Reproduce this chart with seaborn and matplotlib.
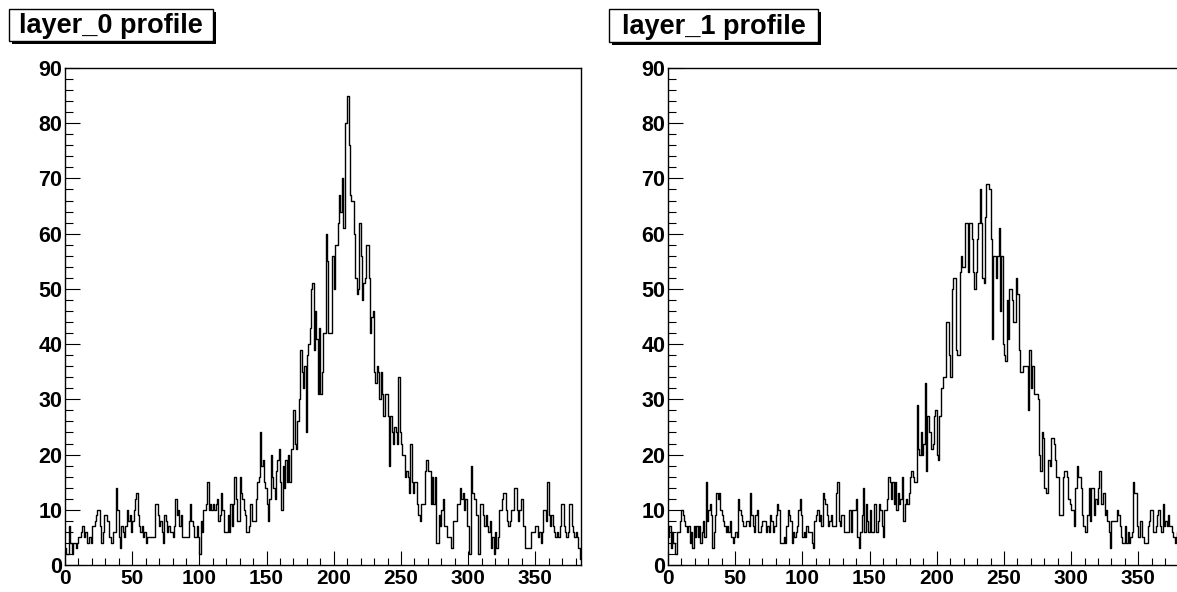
import numpy as np
import pandas as pd
import matplotlib
matplotlib.use("Agg")
import matplotlib.pyplot as plt
from matplotlib.patches import Rectangle
from matplotlib.ticker import MultipleLocator
import seaborn as sns

# Per-channel counts, 384 channels per layer
layer0_counts = [
    3, 2, 2, 7, 4, 2, 4, 4, 3, 4,
    5, 5, 6, 7, 5, 6, 4, 4, 5, 4,
    7, 7, 8, 9, 10, 10, 7, 4, 6, 9,
    9, 8, 8, 5, 4, 4, 6, 6, 14, 10,
    5, 3, 7, 6, 5, 7, 10, 8, 9, 6,
    8, 10, 12, 13, 9, 7, 6, 7, 5, 6,
    4, 5, 5, 5, 5, 5, 5, 11, 11, 9,
    7, 8, 6, 4, 9, 8, 6, 7, 6, 6,
    5, 7, 12, 9, 10, 7, 9, 5, 5, 5,
    5, 5, 8, 11, 8, 7, 5, 5, 7, 5,
    2, 8, 6, 10, 10, 11, 15, 10, 11, 10,
    11, 10, 11, 12, 8, 9, 13, 10, 6, 6,
    6, 9, 6, 11, 7, 11, 16, 12, 8, 8,
    16, 13, 12, 10, 9, 6, 6, 7, 11, 8,
    8, 8, 12, 15, 16, 24, 18, 19, 15, 14,
    11, 8, 12, 20, 16, 14, 12, 17, 19, 21,
    15, 10, 18, 14, 19, 15, 20, 15, 21, 21,
    28, 22, 21, 26, 30, 39, 35, 32, 36, 24,
    38, 40, 43, 50, 51, 39, 46, 41, 31, 43,
    31, 35, 42, 42, 60, 55, 42, 42, 42, 56,
    50, 58, 58, 62, 67, 64, 70, 61, 80, 80,
    85, 76, 67, 66, 66, 60, 52, 49, 50, 62,
    56, 48, 51, 52, 58, 58, 52, 42, 45, 46,
    35, 33, 36, 35, 30, 35, 31, 27, 31, 31,
    27, 18, 27, 24, 22, 25, 24, 22, 34, 24,
    22, 20, 20, 16, 17, 16, 13, 22, 15, 13,
    15, 15, 11, 9, 8, 11, 11, 11, 17, 19,
    17, 17, 11, 16, 11, 16, 4, 4, 9, 7,
    10, 12, 7, 7, 5, 5, 5, 3, 3, 8,
    8, 8, 11, 11, 14, 12, 13, 10, 12, 7,
    7, 2, 18, 13, 12, 12, 9, 2, 2, 11,
    11, 9, 7, 9, 7, 6, 8, 3, 5, 2,
    6, 3, 5, 10, 10, 12, 13, 13, 10, 8,
    7, 8, 10, 10, 14, 14, 10, 8, 10, 12,
    12, 7, 3, 3, 3, 3, 3, 6, 6, 6,
    7, 7, 5, 6, 4, 6, 10, 10, 8, 15,
    9, 7, 9, 7, 6, 5, 6, 5, 7, 11,
    11, 7, 6, 5, 6, 11, 11, 7, 6, 5,
    6, 5, 3, 1,
]

layer1_counts = [
    5, 7, 3, 6, 4, 2, 2, 6, 6, 8,
    10, 9, 8, 7, 6, 7, 4, 6, 3, 7,
    5, 7, 5, 7, 4, 6, 8, 5, 15, 8,
    10, 11, 9, 3, 6, 9, 13, 12, 13, 10,
    9, 8, 7, 6, 7, 6, 8, 5, 4, 5,
    6, 5, 12, 10, 9, 8, 7, 7, 8, 8,
    7, 13, 9, 7, 6, 9, 10, 6, 6, 7,
    8, 8, 8, 6, 7, 6, 9, 8, 6, 7,
    9, 11, 10, 4, 4, 4, 5, 4, 7, 10,
    9, 8, 4, 6, 5, 6, 7, 10, 12, 9,
    5, 6, 5, 7, 6, 6, 6, 4, 3, 8,
    9, 10, 8, 9, 7, 13, 12, 11, 9, 7,
    8, 9, 7, 7, 7, 13, 15, 8, 7, 9,
    9, 6, 6, 6, 6, 10, 6, 10, 10, 10,
    12, 5, 3, 6, 9, 14, 6, 11, 8, 6,
    10, 6, 6, 11, 11, 6, 8, 11, 10, 7,
    5, 10, 10, 12, 16, 15, 12, 15, 11, 15,
    10, 13, 11, 12, 16, 8, 11, 12, 11, 13,
    16, 17, 16, 15, 15, 29, 21, 20, 24, 20,
    22, 33, 17, 27, 24, 24, 21, 22, 27, 28,
    20, 19, 27, 32, 32, 34, 34, 44, 44, 38,
    34, 50, 52, 52, 39, 38, 38, 53, 56, 54,
    54, 62, 62, 53, 62, 62, 59, 53, 50, 53,
    59, 62, 68, 62, 52, 51, 63, 69, 69, 68,
    59, 41, 56, 56, 52, 56, 61, 46, 56, 40,
    38, 37, 48, 41, 50, 50, 48, 44, 44, 52,
    49, 39, 35, 35, 36, 36, 36, 36, 28, 39,
    32, 36, 31, 31, 31, 30, 20, 17, 24, 23,
    14, 13, 13, 19, 18, 23, 23, 22, 19, 16,
    16, 9, 9, 9, 16, 17, 17, 16, 12, 11,
    10, 10, 7, 14, 18, 16, 16, 14, 9, 7,
    6, 6, 9, 14, 8, 14, 14, 9, 12, 11,
    14, 17, 11, 11, 13, 9, 10, 8, 6, 3,
    8, 8, 8, 8, 10, 9, 7, 5, 4, 4,
    7, 4, 6, 4, 5, 6, 15, 13, 13, 7,
    5, 8, 8, 5, 4, 4, 4, 7, 8, 10,
    10, 6, 6, 7, 9, 10, 7, 6, 11, 7,
    8, 7, 9, 7, 7, 6, 5, 4, 5, 6,
    4, 7, 5, 6,
]

titles = ["layer_0 profile", "layer_1 profile"]
n_channels = 384
y_max = 90

sns.set_theme(style="white")
plt.rcParams["font.family"] = ["Liberation Sans", "DejaVu Sans"]
plt.rcParams["font.weight"] = "bold"
plt.rcParams["text.color"] = "black"
plt.rcParams["xtick.color"] = "black"
plt.rcParams["ytick.color"] = "black"

W, H = 1177, 592
fig = plt.figure(figsize=(W / 100, H / 100), dpi=100)
fig.patch.set_facecolor("white")


def axes_px(x0, top, w, h):
    return fig.add_axes([x0 / W, 1 - (top + h) / H, w / W, h / H])


def title_box(x0, top, w, h, text):
    sh = 3
    fig.add_artist(Rectangle(((x0 + sh) / W, 1 - (top + h + sh) / H), w / W, h / H,
                             transform=fig.transFigure, facecolor="black",
                             edgecolor="black", lw=0))
    fig.add_artist(Rectangle((x0 / W, 1 - (top + h) / H), w / W, h / H,
                             transform=fig.transFigure, facecolor="white",
                             edgecolor="black", lw=1))
    fig.text((x0 + w / 2) / W, 1 - (top + h / 2 + 1) / H, text, ha="center",
             va="center", fontsize=19.5, fontweight="bold", color="black")


centers = np.arange(n_channels) + 0.5

panels = [
    (65, layer0_counts, titles[0], (9, 9, 204, 32)),
    (668, layer1_counts, titles[1], (609, 9, 209, 33)),
]

for x0, counts, title, box in panels:
    ax = axes_px(x0, 68, 516, 497)
    df = pd.DataFrame({"channel": centers, "counts": counts})
    sns.histplot(data=df, x="channel", weights="counts", bins=n_channels,
                 binrange=(0, n_channels), element="step", fill=False,
                 color="black", linewidth=1.0, ax=ax)
    ax.set_xlim(0, n_channels)
    ax.set_ylim(0, y_max)
    ax.set_xlabel("")
    ax.set_ylabel("")
    ax.set_facecolor("white")
    for s in ax.spines.values():
        s.set_visible(True)
        s.set_color("black")
        s.set_linewidth(1.0)
    ax.xaxis.set_major_locator(MultipleLocator(50))
    ax.xaxis.set_minor_locator(MultipleLocator(10))
    ax.yaxis.set_major_locator(MultipleLocator(10))
    ax.yaxis.set_minor_locator(MultipleLocator(2))
    ax.tick_params(axis="x", which="major", direction="in", length=10, width=0.8,
                   labelsize=15, pad=2.6, bottom=True, top=False,
                   color="black", labelcolor="black")
    ax.tick_params(axis="x", which="minor", direction="in", length=5, width=0.8,
                   bottom=True, top=False, color="black")
    ax.tick_params(axis="y", which="major", direction="in", length=11, width=0.8,
                   labelsize=15.5, pad=2, left=True, right=False,
                   color="black", labelcolor="black")
    ax.tick_params(axis="y", which="minor", direction="in", length=5.5, width=0.8,
                   left=True, right=False, color="black")
    for lab in ax.get_xticklabels() + ax.get_yticklabels():
        lab.set_fontweight("bold")
    title_box(*box, title)

fig.savefig("out.png", dpi=100, facecolor="white")
